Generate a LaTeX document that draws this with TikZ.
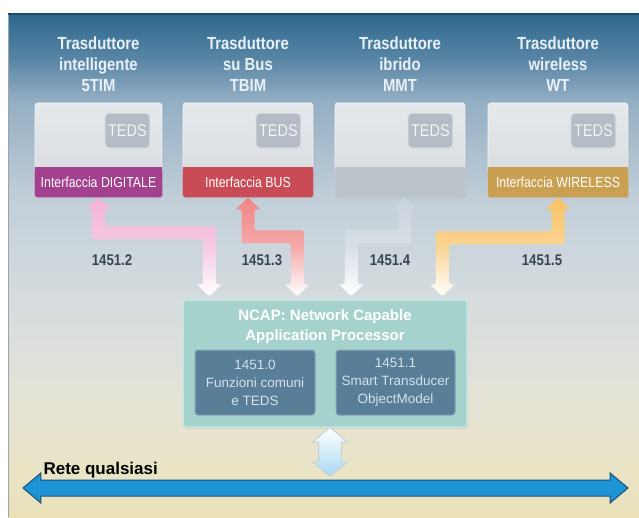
\documentclass[tikz,border=0pt]{standalone}
\usepackage{fontspec}
\setmainfont{Liberation Sans}
\newfontfamily\condfont[FakeStretch=0.85]{Liberation Sans}
\usetikzlibrary{calc,shapes.arrows,shadows}

\definecolor{bgtop}{HTML}{2D688C}
\definecolor{bgblue}{HTML}{5A86A6}
\definecolor{bgsteel}{HTML}{93AEC3}
\definecolor{bgpale}{HTML}{C2CFD9}
\definecolor{bgmid}{HTML}{D6DCDF}
\definecolor{bglow}{HTML}{E4E3D6}
\definecolor{bgcream}{HTML}{EAE4C6}
\definecolor{bgbot}{HTML}{EAE1B9}
\definecolor{frameline}{HTML}{9AA4AC}
\definecolor{topline}{HTML}{1F4C6B}
\definecolor{band1}{HTML}{A3418F}
\definecolor{band2}{HTML}{C94B55}
\definecolor{band3}{HTML}{BCC4CB}
\definecolor{band4}{HTML}{C9A052}
\definecolor{link1}{HTML}{F2B3D6}
\definecolor{link2}{HTML}{F08585}
\definecolor{link3}{HTML}{C8D2DC}
\definecolor{link4}{HTML}{F8C265}
\definecolor{boxtop}{HTML}{E6E9EC}
\definecolor{boxbot}{HTML}{D5D9DD}
\definecolor{boxedge}{HTML}{F3F5F6}
\definecolor{tedsfill}{HTML}{B5BCC5}
\definecolor{tedsedge}{HTML}{DDE1E5}
\definecolor{tedstext}{HTML}{F2F4F6}
\definecolor{titletext}{HTML}{E9F1F8}
\definecolor{labeltext}{HTML}{3A4552}
\definecolor{ncapfill}{HTML}{A6D2CE}
\definecolor{ncapedge}{HTML}{C9E5E2}
\definecolor{modfill}{HTML}{587E98}
\definecolor{modedge}{HTML}{86A3B6}
\definecolor{modtext}{HTML}{D3E2EB}
\definecolor{busblue}{HTML}{1D94D6}
\definecolor{busedge}{HTML}{1B5078}
\definecolor{vlinkblue}{HTML}{A9D8F3}
\definecolor{vlinkedge}{HTML}{C3CED8}

\pgfdeclareverticalshading{bgfade}{100bp}{color(0bp)=(bgbot); color(25bp)=(bgbot); color(29.7bp)=(bgcream); color(36.6bp)=(bglow); color(46.6bp)=(bgmid); color(56.5bp)=(bgpale); color(66.5bp)=(bgsteel); color(70.4bp)=(bgblue); color(75bp)=(bgtop); color(100bp)=(bgtop)}

\tikzset{
  tbox/.style={rounded corners=3pt, draw=boxedge, line width=0.8pt, top color=boxtop, bottom color=boxbot,
    minimum height=94pt, inner sep=0pt, drop shadow={opacity=0.25, shadow xshift=1pt, shadow yshift=-1.5pt}},
  tband/.style={inner sep=0pt, text=white, font=\condfont\fontsize{14.5}{16}\selectfont},
  teds/.style={rounded corners=4pt, draw=tedsedge, line width=1pt, fill=tedsfill, minimum width=45pt,
    minimum height=35pt, inner sep=0pt, text=tedstext, font=\condfont\fontsize{17}{18}\selectfont},
  ttitle/.style={align=center, text=titletext, font=\condfont\bfseries\fontsize{17.5}{21}\selectfont},
  stdlabel/.style={text=labeltext, font=\condfont\bfseries\fontsize{15.5}{18}\selectfont},
  link/.style={rounded corners=2pt},
  ncapbox/.style={rounded corners=3pt, draw=ncapedge, line width=1.5pt, fill=ncapfill, inner sep=0pt,
    drop shadow={opacity=0.25, shadow xshift=1pt, shadow yshift=-1.5pt}},
  ncaptitle/.style={align=center, text=white, font=\bfseries\fontsize{15}{20}\selectfont},
  modbox/.style={rounded corners=3pt, draw=modedge, line width=1pt, fill=modfill, minimum height=65pt,
    inner sep=0pt, align=center, text=modtext, font=\fontsize{13.5}{18}\selectfont},
  busarrow/.style={double arrow, draw=busedge, line width=1pt, fill=busblue, minimum height=605pt,
    double arrow head extend=7pt, double arrow tip angle=80, inner xsep=0pt, inner ysep=7.5pt},
  vlink/.style={double arrow, shape border rotate=90, draw=vlinkedge, line width=0.8pt, top color=white,
    bottom color=vlinkblue, minimum height=49pt, double arrow head extend=6pt,
    double arrow tip angle=100, inner sep=11pt},
  netlabel/.style={text=black, font=\bfseries\fontsize{17}{20}\selectfont}
}

% #1 name, #2 x, #3 width, #4 title, #5 band colour, #6 band text
\newcommand\transducer[6]{%
  \node[ttitle] (#1t) at (#2,453) {#4};
  \node[tbox, minimum width=#3pt] (#1) at (#2,367) {};
  \fill[#5, rounded corners=3pt] (#1.south west) rectangle ([yshift=30pt]#1.south east);
  \fill[#5] ([yshift=15pt]#1.south west) rectangle ([yshift=30pt]#1.south east);
  \node[tband] (#1b) at ([yshift=15pt]#1.south) {#6};
  \node[teds, anchor=north east] (#1d) at ([xshift=-12pt,yshift=-10pt]#1.north east) {TEDS};
}

% #1 upper end, #2 lower end, #3 turn height, #4 colour, #5 1 = right, -1 = left
\newcommand\fatlink[5]{%
  \path[link, top color=#4, bottom color=white, middle color=#4!70!white]
    let \p1=(#1), \p2=(#2) in
    (\x1,\y1) -- ({\x1+(#5)*12.5pt},{\y1-12pt}) -- ({\x1+(#5)*6.5pt},{\y1-12pt})
    -- ({\x1+(#5)*6.5pt},{#3pt+6.5pt}) -- ({\x2+(#5)*6.5pt},{#3pt+6.5pt})
    -- ({\x2+(#5)*6.5pt},{\y2+12pt}) -- ({\x2+(#5)*12.5pt},{\y2+12pt}) -- (\x2,\y2)
    -- ({\x2-(#5)*12.5pt},{\y2+12pt}) -- ({\x2-(#5)*6.5pt},{\y2+12pt})
    -- ({\x2-(#5)*6.5pt},{#3pt-6.5pt}) -- ({\x1-(#5)*6.5pt},{#3pt-6.5pt})
    -- ({\x1-(#5)*6.5pt},{\y1-12pt}) -- ({\x1-(#5)*12.5pt},{\y1-12pt}) -- cycle;
}

\begin{document}
\begin{tikzpicture}[x=1pt,y=1pt]
    %%%%% START %%%%%
    \useasboundingbox (0,0) rectangle (639,517);
    \fill[white] (0,0) rectangle (639,517);
    \fill[shading=bgfade] (8,0) rectangle (639,503);
    \draw[frameline] (8,0) -- (8,503);
    \draw[topline, line width=1.2pt] (8,503) -- (639,503);

    % rete
    \node[busarrow] (bus) at (325.5,29) {};
    \node[netlabel, anchor=base west] (net) at (40,43) {Rete qualsiasi};

    % trasduttori
    \transducer{t1}{98.5}{127}{Trasduttore\\intelligente\\5TIM}{band1}{Interfaccia DIGITALE}
    \transducer{t2}{248}{130}{Trasduttore\\su Bus\\TBIM}{band2}{Interfaccia BUS}
    \transducer{t3}{400}{130}{Trasduttore\\ibrido\\MMT}{band3}{}
    \transducer{t4}{558}{140}{Trasduttore\\wireless\\WT}{band4}{Interfaccia WIRELESS}

    % NCAP
    \node[ncapbox, minimum width=284pt, minimum height=127pt] (ncap) at (325,153.5) {};
    \node[ncaptitle] (ncapt) at (325,190) {NCAP: Network Capable\\Application Processor};
    \node[modbox, minimum width=120pt] (m0) at (255,134.5) {1451.0\\Funzioni comuni\\e TEDS};
    \node[modbox, minimum width=119pt] (m1) at (395.5,134.5) {1451.1\\Smart Transducer\\ObjectModel};

    \node[vlink] (nlink) at (330,65) {};

    % collegamenti
    \coordinate (out3) at ([xshift=5pt]t3.south);
    \coordinate (in1) at ([xshift=27pt,yshift=3pt]ncap.north west);
    \coordinate (in2) at ([xshift=115pt,yshift=3pt]ncap.north west);
    \coordinate (in3) at ([xshift=169pt,yshift=3pt]ncap.north west);
    \coordinate (in4) at ([xshift=260pt,yshift=3pt]ncap.north west);
    \fatlink{t1.south}{in1}{284}{link1}{1}
    \fatlink{t2.south}{in2}{280}{link2}{1}
    \fatlink{out3}{in3}{280}{link3}{-1}
    \fatlink{t4.south}{in4}{279}{link4}{-1}

    \node[stdlabel] (l2) at (112,257) {1451.2};
    \node[stdlabel] (l3) at (262,257) {1451.3};
    \node[stdlabel] (l4) at (390,257) {1451.4};
    \node[stdlabel] (l5) at (542,257) {1451.5};
    %%%%% END %%%%%
\end{tikzpicture}
\end{document}
